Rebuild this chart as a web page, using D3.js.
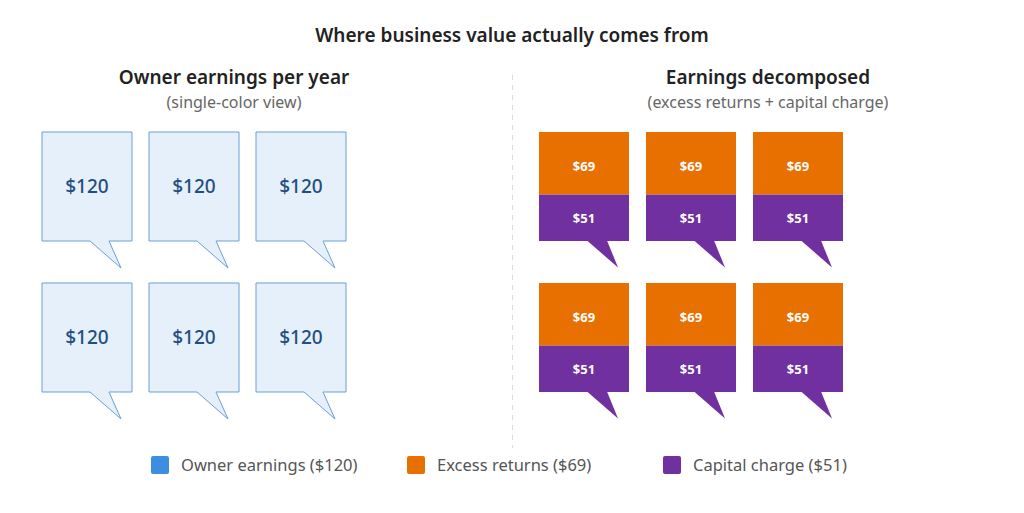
<!DOCTYPE html>
<html>
<head>
<meta charset="utf-8">
<script src="https://cdn.jsdelivr.net/npm/d3@7"></script>
<style>
  body { margin: 0; background: #fff; }
  text { font-family: "Noto Sans", "Open Sans", sans-serif; }
</style>
</head>
<body>
<svg id="chart" width="1024" height="513"></svg>
<script>
// data
const years = [0, 1, 2, 3, 4, 5];
const ownerEarnings = 120;
const excessReturns = 69;
const capitalCharge = 51;
const legendLabels = ['Owner earnings ($120)', 'Excess returns ($69)', 'Capital charge ($51)'];
const legendColors = ['#3b8ee0', '#e87000', '#7030a0'];

const svg = d3.select('#chart');

// title
svg.append('text').attr('x', 512).attr('y', 42).attr('text-anchor', 'middle')
  .style('font-size', '19px').style('font-weight', 600).style('fill', '#222')
  .text('Where business value actually comes from');

// panel headings
function heading(cx, main, sub){
  svg.append('text').attr('x', cx).attr('y', 84).attr('text-anchor', 'middle')
    .style('font-size', '19px').style('font-weight', 600).style('fill', '#222').text(main);
  svg.append('text').attr('x', cx).attr('y', 108).attr('text-anchor', 'middle')
    .style('font-size', '16px').style('fill', '#666').text(sub);
}
heading(234, 'Owner earnings per year', '(single-color view)');
heading(768, 'Earnings decomposed', '(excess returns + capital charge)');

// divider
svg.append('line').attr('x1', 512.5).attr('x2', 512.5).attr('y1', 75).attr('y2', 448)
  .style('stroke', '#ddd').style('stroke-dasharray', '5,5');

// scales
const colL = d3.scaleBand().domain([0, 1, 2]).range([42, 346]).paddingInner(17 / 107);
const colR = d3.scaleBand().domain([0, 1, 2]).range([539, 843]).paddingInner(17 / 107);
const row = d3.scaleBand().domain([0, 1]).range([132, 392]).paddingInner(42 / 151);
const h = d3.scaleLinear().domain([0, ownerEarnings]).range([0, row.bandwidth()]);

// speech bubble outline: box with a tail under it
function bubble(x, y, w, hh){
  const b = y + hh;
  return `M${x},${y}H${x + w}V${b}H${x + 67}L${x + 79},${b + 27}L${x + 48},${b}H${x}Z`;
}
function tail(x, b){
  return `M${x + 48},${b}L${x + 79},${b + 27}L${x + 68},${b}Z`;
}

// left: single colour
const lg = svg.append('g').selectAll('g').data(years).enter().append('g');
lg.append('path')
  .attr('d', d => bubble(colL(d % 3), row(Math.floor(d / 3)), colL.bandwidth(), h(ownerEarnings)))
  .style('fill', '#e6f0fb').style('stroke', '#6b9fd6').style('stroke-width', 1);
lg.append('text')
  .attr('x', d => colL(d % 3) + colL.bandwidth() / 2)
  .attr('y', d => row(Math.floor(d / 3)) + h(ownerEarnings) / 2 + 6)
  .attr('text-anchor', 'middle')
  .style('font-size', '19px').style('font-weight', 500).style('fill', '#1f4e80')
  .text('$' + ownerEarnings);

// right: decomposed
const rg = svg.append('g').selectAll('g').data(years).enter().append('g');
rg.append('rect')
  .attr('x', d => colR(d % 3)).attr('y', d => row(Math.floor(d / 3)))
  .attr('width', colR.bandwidth()).attr('height', h(excessReturns))
  .style('fill', legendColors[1]);
rg.append('rect')
  .attr('x', d => colR(d % 3)).attr('y', d => row(Math.floor(d / 3)) + h(excessReturns))
  .attr('width', colR.bandwidth()).attr('height', h(capitalCharge))
  .style('fill', legendColors[2]);
rg.append('path')
  .attr('d', d => tail(colR(d % 3), row(Math.floor(d / 3)) + h(ownerEarnings) - 0.5))
  .style('fill', legendColors[2]);
rg.append('text')
  .attr('x', d => colR(d % 3) + colR.bandwidth() / 2)
  .attr('y', d => row(Math.floor(d / 3)) + h(excessReturns) / 2 + 8)
  .attr('text-anchor', 'middle')
  .style('font-size', '13px').style('font-weight', 700).style('fill', '#fff')
  .text('$' + excessReturns);
rg.append('text')
  .attr('x', d => colR(d % 3) + colR.bandwidth() / 2)
  .attr('y', d => row(Math.floor(d / 3)) + h(excessReturns) + h(capitalCharge) / 2 + 5)
  .attr('text-anchor', 'middle')
  .style('font-size', '13px').style('font-weight', 700).style('fill', '#fff')
  .text('$' + capitalCharge);

// legend
const legX = [151, 407, 663];
const leg = svg.append('g').selectAll('g').data(legendLabels).enter().append('g')
  .attr('transform', (d, i) => 'translate(' + legX[i] + ',456)');
leg.append('rect').attr('width', 18).attr('height', 18).attr('rx', 2)
  .style('fill', (d, i) => legendColors[i]);
leg.append('text').attr('x', 30).attr('y', 15)
  .style('font-size', '16.5px').style('fill', '#555').text(d => d);
</script>
</body>
</html>
